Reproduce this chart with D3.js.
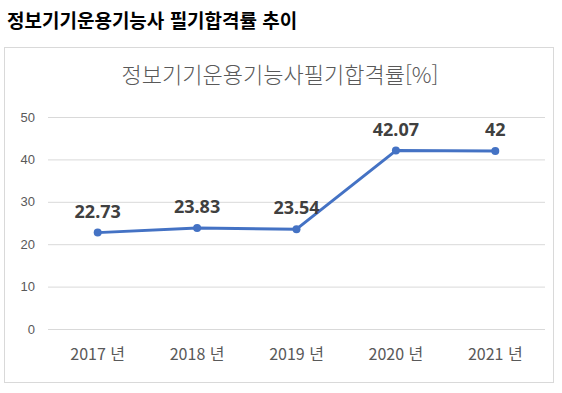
<!DOCTYPE html>
<html lang="ko">
<head>
  <meta charset="UTF-8">
  <title>정보기기운용기능사 필기합격률 추이</title>
  <script src="https://cdn.jsdelivr.net/npm/d3@7/dist/d3.min.js"></script>
  <style>
    body { margin: 0; background: #fff; }
    svg { display: block; font-family: "Noto Sans", "Noto Sans CJK KR", sans-serif; }
  </style>
</head>
<body>
  <svg width="562" height="393"></svg>
  <script>
    const years = ['2017 년', '2018 년', '2019 년', '2020 년', '2021 년']
    const rates = [22.73, 23.83, 23.54, 42.07, 42]
    const yTicks = [0, 10, 20, 30, 40, 50]

    const svg = d3.select('svg')

    // page heading
    svg.append('text')
      .attr('x', 7)
      .attr('y', 28)
      .attr('font-family', '"Noto Sans CJK KR", sans-serif')
      .attr('font-size', 19)
      .attr('font-weight', 'bold')
      .attr('fill', '#000')
      .text('정보기기운용기능사 필기합격률 추이')

    // chart frame
    svg.append('rect')
      .attr('x', 4.5)
      .attr('y', 47.5)
      .attr('width', 549)
      .attr('height', 335)
      .attr('fill', '#fff')
      .attr('stroke', '#d9d9d9')

    svg.append('text')
      .attr('x', 280)
      .attr('y', 83)
      .attr('text-anchor', 'middle')
      .attr('font-family', '"Noto Sans CJK KR", sans-serif')
      .attr('font-size', 22)
      .attr('font-weight', 300)
      .attr('fill', '#595959')
      .text('정보기기운용기능사필기합격률[%]')

    const x = d3.scaleBand().domain(years).range([48, 545])
    const y = d3.scaleLinear().domain([0, 50]).range([329, 117])

    const yAxis = svg.append('g')
      .attr('transform', 'translate(48,0)')
      .call(d3.axisLeft(y).tickValues(yTicks).tickSize(-497).tickPadding(13))
    yAxis.select('.domain').remove()
    yAxis.selectAll('line').attr('stroke', '#d9d9d9')
    yAxis.selectAll('text')
      .attr('fill', '#595959')
      .attr('font-size', 13)

    const xAxis = svg.append('g')
      .attr('transform', 'translate(0,329)')
      .call(d3.axisBottom(x).tickSize(0).tickPadding(20))
    xAxis.select('.domain').remove()
    xAxis.selectAll('text')
      .attr('fill', '#595959')
      .attr('font-family', '"Noto Sans CJK KR", sans-serif')
      .attr('font-size', 16)

    const cx = d => x(d) + x.bandwidth() / 2

    svg.append('path')
      .datum(rates)
      .attr('fill', 'none')
      .attr('stroke', '#4472c4')
      .attr('stroke-width', 3)
      .attr('stroke-linejoin', 'round')
      .attr('d', d3.line().x((d, i) => cx(years[i])).y(d => y(d)))

    svg.selectAll('circle.pt')
      .data(rates)
      .enter()
      .append('circle')
      .attr('class', 'pt')
      .attr('cx', (d, i) => cx(years[i]))
      .attr('cy', d => y(d))
      .attr('r', 4)
      .attr('fill', '#4472c4')

    svg.selectAll('text.lbl')
      .data(rates)
      .enter()
      .append('text')
      .attr('class', 'lbl')
      .attr('x', (d, i) => cx(years[i]))
      .attr('y', d => y(d) - 15)
      .attr('text-anchor', 'middle')
      .attr('font-size', 18)
      .attr('font-weight', 'bold')
      .attr('fill', '#404040')
      .text(d => d)
  </script>
</body>
</html>
